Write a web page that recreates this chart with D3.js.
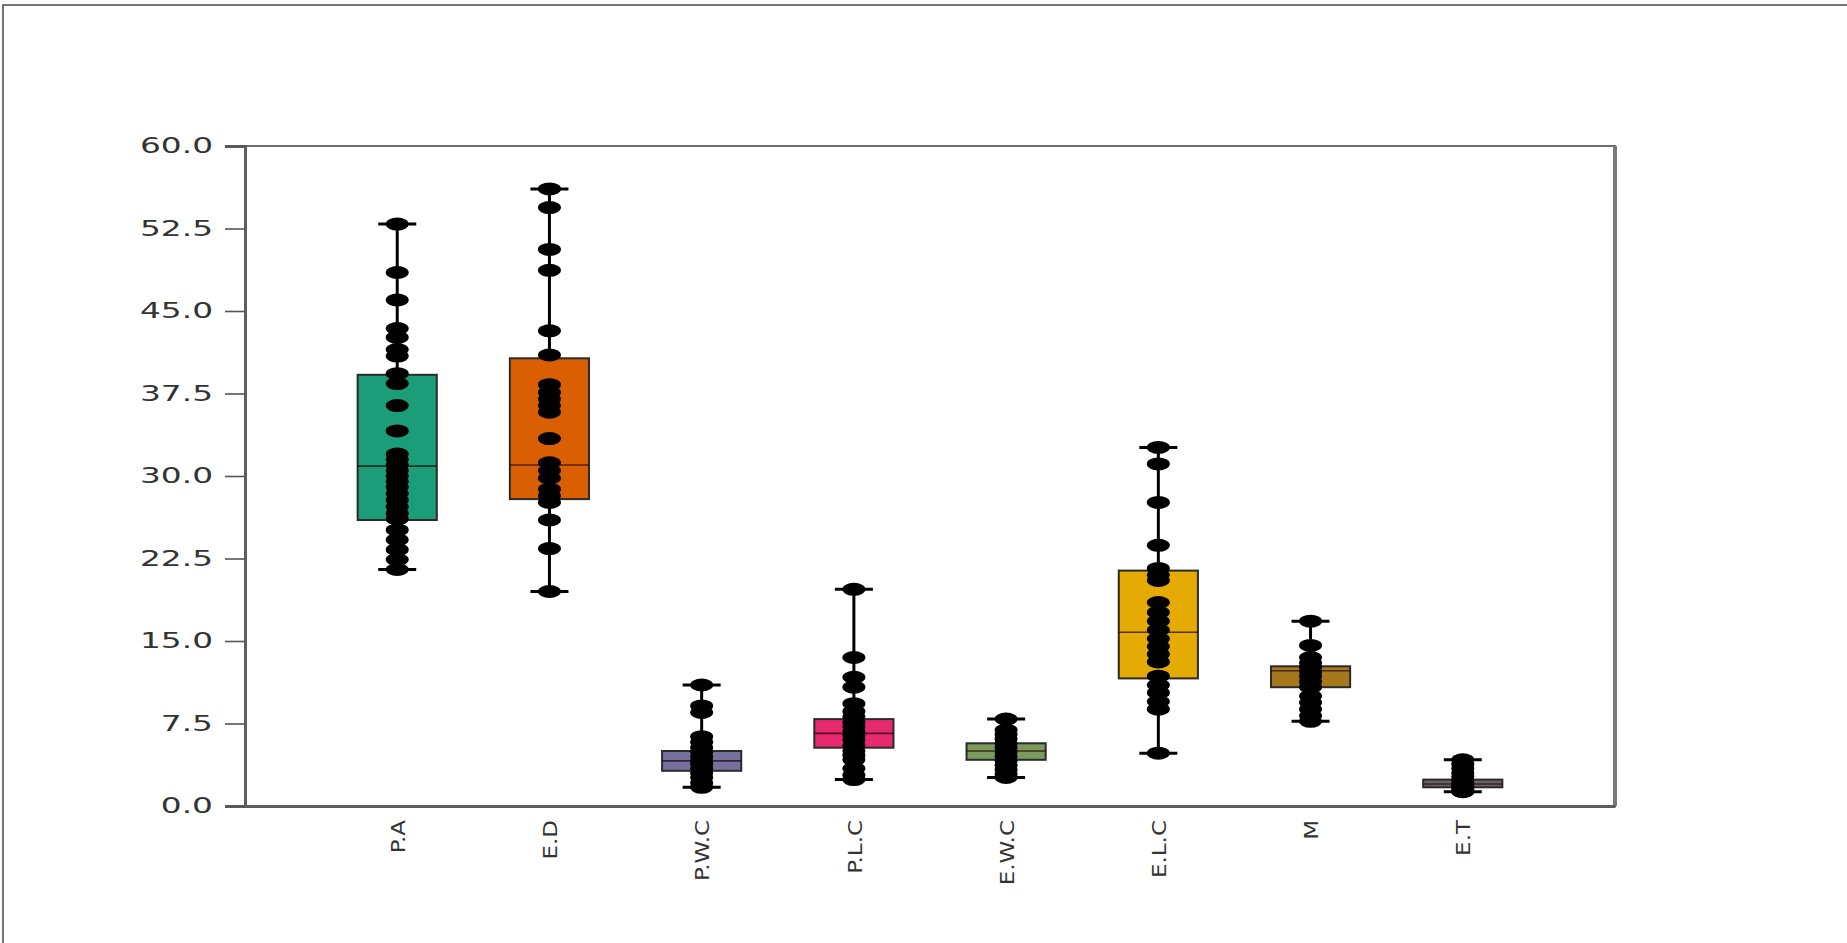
<!DOCTYPE html>
<html>
<head>
<meta charset="utf-8">
<script src="https://cdn.jsdelivr.net/npm/d3@7"></script>
<style>
  html, body { margin: 0; padding: 0; background: #fff; }
  svg { display: block; }
</style>
</head>
<body>
<svg id="chart" width="1847" height="943"></svg>
<script>
// Groups along the x axis and their fills
const categories = ["P.A", "E.D", "P.W.C", "P.L.C", "E.W.C", "E.L.C", "M", "E.T"];
const boxColors = ["#1b9e77", "#d95f02", "#74729c", "#e7296f", "#7a9a5e", "#e6ab02", "#a6781d", "#666666"];

// Box summaries per group
const lowerQuartile = [26.0, 27.9, 3.2, 5.3, 4.2, 11.6, 10.8, 1.7];
const medians       = [30.9, 31.0, 4.1, 6.6, 5.0, 15.8, 12.3, 2.0];
const upperQuartile = [39.2, 40.7, 5.0, 7.9, 5.7, 21.4, 12.7, 2.4];
const whiskerLow    = [21.5, 19.5, 1.7, 2.4, 2.6, 4.8, 7.7, 1.3];
const whiskerHigh   = [52.9, 56.1, 11.0, 19.7, 7.9, 32.6, 16.8, 4.2];

// Individual observations per group
const obsPA  = [52.9, 48.5, 46.0, 43.4, 42.6, 41.5, 40.9, 39.3, 38.4, 36.4, 34.1, 32.0, 31.5, 31.0, 30.5, 30.0, 29.5, 29.0, 28.4, 27.8, 27.2, 26.6, 26.1, 25.1, 24.2, 23.3, 22.4, 21.5];
const obsED  = [56.1, 54.4, 50.6, 48.7, 43.2, 41.0, 38.3, 37.6, 37.0, 36.4, 35.8, 33.4, 31.2, 30.5, 29.8, 28.8, 28.2, 27.6, 26.0, 23.4, 19.5];
const obsPWC = [11.0, 9.1, 8.5, 6.3, 5.8, 5.3, 4.9, 4.5, 4.1, 3.8, 3.4, 3.0, 2.6, 2.1, 1.7];
const obsPLC = [19.7, 13.5, 11.7, 10.8, 9.3, 8.6, 8.1, 7.6, 7.2, 6.8, 6.4, 6.0, 5.5, 5.0, 4.6, 4.2, 3.4, 2.8, 2.4];
const obsEWC = [7.9, 6.9, 6.5, 6.1, 5.7, 5.3, 4.9, 4.5, 4.1, 3.7, 3.3, 2.9, 2.6];
const obsELC = [32.6, 31.1, 27.6, 23.7, 21.6, 21.0, 20.5, 18.5, 17.6, 16.8, 16.0, 15.2, 14.5, 13.8, 13.1, 11.8, 11.0, 10.3, 9.5, 8.8, 4.8];
const obsM   = [16.8, 14.6, 13.5, 13.0, 12.6, 12.2, 11.8, 11.3, 10.8, 10.0, 9.4, 8.8, 8.2, 7.7];
const obsET  = [4.2, 3.8, 3.4, 3.0, 2.7, 2.4, 2.1, 1.9, 1.7, 1.5, 1.3];
const observations = [obsPA, obsED, obsPWC, obsPLC, obsEWC, obsELC, obsM, obsET];

// y axis ticks
const yTicks = [0, 7.5, 15, 22.5, 30, 37.5, 45, 52.5, 60];

const svg = d3.select("#chart");

// outer frame of the figure
svg.append("path")
  .attr("d", "M3,943V5H1847")
  .attr("fill", "none")
  .attr("stroke", "#4a4a4a")
  .attr("stroke-width", 1.5);

const plot = { left: 245, right: 1615, top: 146, bottom: 806 };

const x = d3.scalePoint().domain(categories).range([plot.left, plot.right]).padding(1);
const y = d3.scaleLinear().domain([0, 60]).range([plot.bottom, plot.top]);

const boxWidth = x.step() * 0.52;
const capWidth = 38;

const groups = categories.map((c, i) => ({
  name: c,
  color: boxColors[i],
  q1: lowerQuartile[i],
  med: medians[i],
  q3: upperQuartile[i],
  lo: whiskerLow[i],
  hi: whiskerHigh[i],
  values: observations[i]
}));

// plot frame
svg.append("rect")
  .attr("x", plot.left).attr("y", plot.top)
  .attr("width", plot.right - plot.left).attr("height", plot.bottom - plot.top)
  .attr("fill", "none").attr("stroke", "#6e6e6e").attr("stroke-width", 2);
svg.append("line")
  .attr("x1", plot.right).attr("x2", plot.right)
  .attr("y1", plot.top).attr("y2", plot.bottom)
  .attr("stroke", "#7a7a7a").attr("stroke-width", 4);

// y axis
const yAxis = svg.append("g")
  .attr("transform", `translate(${plot.left},0)`)
  .call(d3.axisLeft(y).tickValues(yTicks).tickFormat(d3.format(".1f")).tickSize(20).tickPadding(10));
yAxis.select(".domain").attr("stroke", "#5e5e5e").attr("stroke-width", 3);
yAxis.selectAll(".tick line").attr("stroke", "#555").attr("stroke-width", 1.6);
yAxis.selectAll(".tick text")
  .attr("x", null)
  .attr("transform", "translate(-32,0) scale(1.6,1)")
  .attr("text-anchor", "end")
  .attr("fill", "#333")
  .style("font-family", "'DejaVu Sans', sans-serif")
  .style("font-size", "20.5px");

// x axis: rotated category labels, no tick marks
const xAxis = svg.append("g")
  .attr("transform", `translate(0,${plot.bottom})`)
  .call(d3.axisBottom(x).tickSize(0).tickPadding(0));
xAxis.select(".domain").attr("stroke", "#5e5e5e").attr("stroke-width", 3);
xAxis.selectAll(".tick text")
  .attr("y", null).attr("dy", null)
  .attr("transform", "translate(0,14) rotate(-90) scale(1.15,1)")
  .attr("text-anchor", "end")
  .attr("dy", "0.36em")
  .attr("fill", "#333")
  .style("font-family", "'DejaVu Sans', sans-serif")
  .style("font-size", "20px");

// boxes
const g = svg.append("g").selectAll("g.box").data(groups).join("g")
  .attr("class", "box")
  .attr("transform", d => `translate(${x(d.name)},0)`);

// whiskers
g.append("line")
  .attr("x1", 0).attr("x2", 0)
  .attr("y1", d => y(d.hi)).attr("y2", d => y(d.q3))
  .attr("stroke", "#000").attr("stroke-width", 3);
g.append("line")
  .attr("x1", 0).attr("x2", 0)
  .attr("y1", d => y(d.q1)).attr("y2", d => y(d.lo))
  .attr("stroke", "#000").attr("stroke-width", 3);
g.append("line")
  .attr("x1", -capWidth / 2).attr("x2", capWidth / 2)
  .attr("y1", d => y(d.hi)).attr("y2", d => y(d.hi))
  .attr("stroke", "#000").attr("stroke-width", 3);
g.append("line")
  .attr("x1", -capWidth / 2).attr("x2", capWidth / 2)
  .attr("y1", d => y(d.lo)).attr("y2", d => y(d.lo))
  .attr("stroke", "#000").attr("stroke-width", 3);

// interquartile box
g.append("rect")
  .attr("x", -boxWidth / 2).attr("width", boxWidth)
  .attr("y", d => y(d.q3)).attr("height", d => y(d.q1) - y(d.q3))
  .attr("fill", d => d.color)
  .attr("stroke", "#2a2a2a").attr("stroke-width", 2);

// median
g.append("line")
  .attr("x1", -boxWidth / 2).attr("x2", boxWidth / 2)
  .attr("y1", d => y(d.med)).attr("y2", d => y(d.med))
  .attr("stroke", "rgba(40,10,10,0.75)").attr("stroke-width", 1.6);

// observations
g.selectAll("ellipse").data(d => d.values).join("ellipse")
  .attr("cx", 0).attr("cy", v => y(v))
  .attr("rx", 11.5).attr("ry", 6.5)
  .attr("fill", "#000");
</script>
</body>
</html>
